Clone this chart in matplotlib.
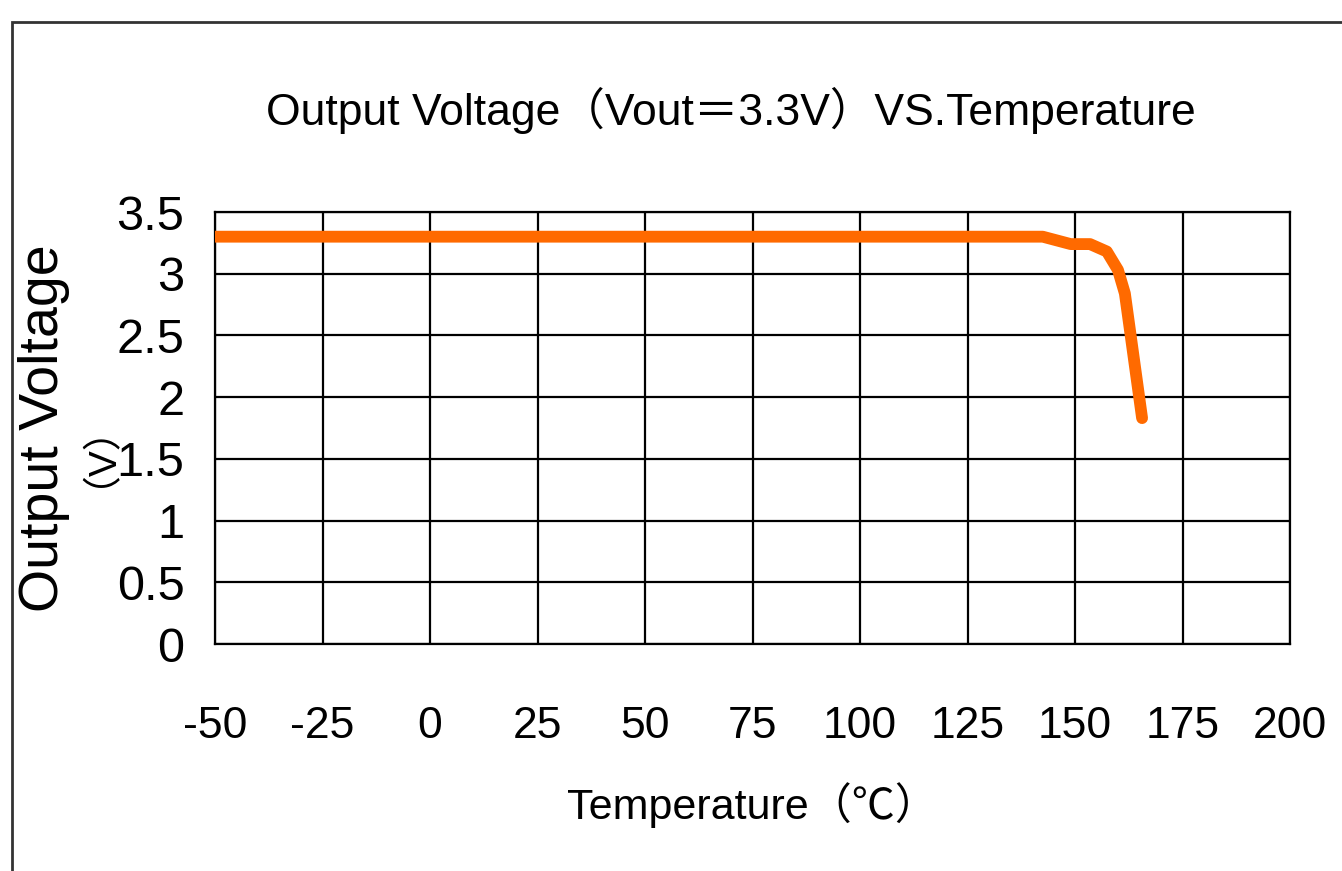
import matplotlib.pyplot as plt
from matplotlib.patches import Rectangle

# data
temp = [-50, -25, 0, 25, 50, 75, 100, 125, 142.5, 149, 153.5, 157.4, 160, 161.6, 165.6]
vout = [3.3, 3.3, 3.3, 3.3, 3.3, 3.3, 3.3, 3.3, 3.3, 3.24, 3.24, 3.18, 3.03, 2.84, 1.83]
xticks = [-50, -25, 0, 25, 50, 75, 100, 125, 150, 175, 200]
yticks = [0, 0.5, 1, 1.5, 2, 2.5, 3, 3.5]
ytick_labels = ['0', '0.5', '1', '1.5', '2', '2.5', '3', '3.5']

plt.rcParams['font.family'] = ['Liberation Sans', 'Noto Sans CJK SC']
plt.rcParams['axes.unicode_minus'] = False

fig = plt.figure(figsize=(13.42, 8.71), dpi=100)
ax = fig.add_axes([215 / 1342, 1 - 644 / 871, (1290 - 215) / 1342, (644 - 212) / 871])

# outer frame of the original picture
fig.patches.append(Rectangle((12 / 1342, -0.1), 1.2, 1 - 22 / 871 + 0.1,
                             transform=fig.transFigure, fill=False,
                             edgecolor='#333333', linewidth=2))

ax.plot(temp, vout, color='#FF6A00', linewidth=8.5, solid_capstyle='round',
        solid_joinstyle='round', zorder=3)

ax.set_xlim(-50, 200)
ax.set_ylim(0, 3.5)
ax.set_xticks(xticks)
ax.set_yticks(yticks)
ax.set_yticklabels(ytick_labels)
ax.grid(True, color='black', linewidth=1.6)
for s in ax.spines.values():
    s.set_linewidth(1.6)
ax.tick_params(length=0)
ax.tick_params(axis='x', pad=45, labelsize=32)
ax.tick_params(axis='y', pad=22, labelsize=35)

ax.set_title('Output Voltage（Vout＝3.3V）VS.Temperature', fontsize=32, pad=63, x=0.48)
ax.set_xlabel('Temperature（℃）', fontsize=31, labelpad=25)
# y label is two lines in the original; second line sits close to the first
ax.set_ylabel('Output Voltage', fontsize=40)
ax.yaxis.set_label_coords(-0.135, 0.5)
ax.text(-0.126, 0.484, '（V）', transform=ax.transAxes, fontsize=28,
        rotation=90, ha='center', va='center')

plt.savefig('out.png', dpi=100)
